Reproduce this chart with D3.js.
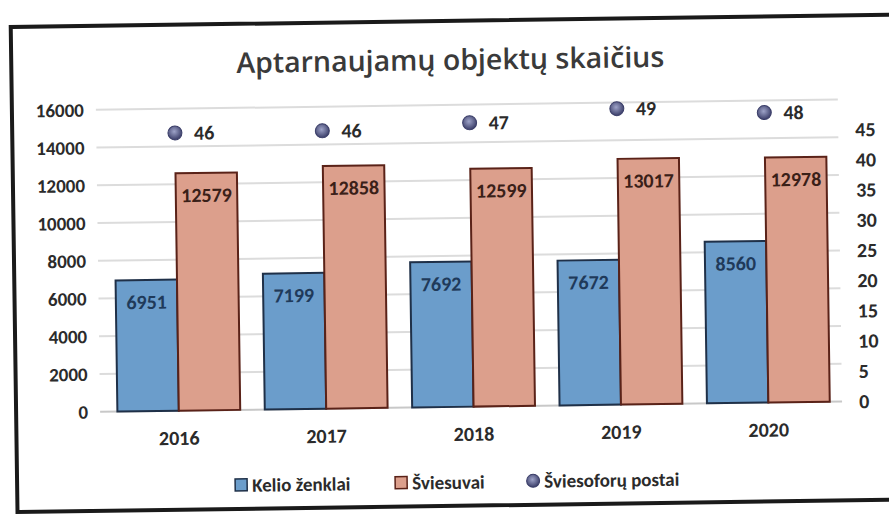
<!DOCTYPE html>
<html>
<head>
<meta charset="utf-8">
<script src="https://cdn.jsdelivr.net/npm/d3@7"></script>
<style>
  body { margin: 0; background: #fff; }
  svg { display: block; }
</style>
</head>
<body>
<div id="chart"></div>
<script>
// data
const years = ["2016", "2017", "2018", "2019", "2020"];
const keliozenklai = [6951, 7199, 7692, 7672, 8560];
const sviesuvai = [12579, 12858, 12599, 13017, 12978];
const postai = [46, 46, 47, 49, 48];
const leftTicks = [0, 2000, 4000, 6000, 8000, 10000, 12000, 14000, 16000];
const rightTicks = [0, 5, 10, 15, 20, 25, 30, 35, 40, 45];
const seriesNames = ["Kelio ženklai", "Šviesuvai", "Šviesoforų postai"];

const width = 889, height = 516;
const font = "Carlito, Lato, 'Open Sans', sans-serif";

const svg = d3.select("#chart").append("svg")
    .attr("width", width)
    .attr("height", height)
    .attr("font-family", font);

// the scan is a little tilted, so everything sits in one rotated group
const root = svg.append("g")
    .attr("transform", "rotate(-0.8,445,258)");

// the outer frame (cut by the page on the right)
root.append("rect")
    .attr("x", 14).attr("y", 21)
    .attr("width", 900).attr("height", 485)
    .attr("fill", "none")
    .attr("stroke", "#1a1a1a")
    .attr("stroke-width", 4);

root.append("text")
    .attr("x", 453).attr("y", 70)
    .attr("text-anchor", "middle")
    .attr("font-family", "'Open Sans', sans-serif")
    .attr("font-size", 28.5)
    .attr("font-weight", 600)
    .attr("fill", "#3a3a3a")
    .text("Aptarnaujamų objektų skaičius");

const x = d3.scaleBand().domain(years).range([103, 840]);
const x1 = d3.scaleBand().domain([0, 1]).range([0, x.bandwidth()]).paddingOuter(0.2);
const y = d3.scaleLinear().domain([0, 16000]).range([407, 105]);
const y2 = d3.scaleLinear().domain([0, 50]).range([407, 105]);

// gridlines
root.append("g")
  .selectAll("line")
  .data(leftTicks)
  .join("line")
    .attr("x1", 98).attr("x2", 840)
    .attr("y1", d => y(d)).attr("y2", d => y(d))
    .attr("stroke", d => d === 0 ? "#c8c8c8" : "#dcdcdc")
    .attr("stroke-width", 2);

// left axis
const yAxis = root.append("g")
    .attr("transform", "translate(86,0)")
    .call(d3.axisLeft(y).tickValues(leftTicks).tickFormat(d3.format("d")).tickSize(0).tickPadding(0));
yAxis.select(".domain").remove();
yAxis.selectAll("text")
    .attr("font-family", font)
    .attr("font-size", 19)
    .attr("font-weight", "bold")
    .attr("fill", "#2b2b2b");

// right axis
const y2Axis = root.append("g")
    .attr("transform", "translate(852,0)")
    .call(d3.axisRight(y2).tickValues(rightTicks).tickSize(0).tickPadding(5));
y2Axis.select(".domain").remove();
y2Axis.selectAll("text")
    .attr("font-family", font)
    .attr("font-size", 20)
    .attr("font-weight", "bold")
    .attr("fill", "#2b2b2b");

// x axis
const xAxis = root.append("g")
    .attr("transform", `translate(0,${y(0)})`)
    .call(d3.axisBottom(x).tickSize(0).tickPadding(20));
xAxis.select(".domain").remove();
xAxis.selectAll("text")
    .attr("font-family", font)
    .attr("font-size", 20)
    .attr("font-weight", "bold")
    .attr("fill", "#2b2b2b");

const fills = ["#6b9dcb", "#dc9f8c"];
const strokes = ["#1f3048", "#5a2218"];
const labelCol = ["#1f3a5a", "#3a2018"];
const bars = [keliozenklai, sviesuvai];

const groups = root.append("g")
  .selectAll("g")
  .data(years)
  .join("g")
    .attr("transform", d => `translate(${x(d)},0)`);

bars.forEach((vals, s) => {
  groups.append("rect")
      .attr("x", x1(s))
      .attr("y", (d, i) => y(vals[i]))
      .attr("width", x1.bandwidth())
      .attr("height", (d, i) => y(0) - y(vals[i]))
      .attr("fill", fills[s])
      .attr("stroke", strokes[s])
      .attr("stroke-width", 2);
  groups.append("text")
      .attr("x", x1(s) + x1.bandwidth() / 2)
      .attr("y", (d, i) => y(vals[i]) + 29)
      .attr("text-anchor", "middle")
      .attr("font-size", 20)
      .attr("font-weight", "bold")
      .attr("fill", labelCol[s])
      .text((d, i) => vals[i]);
});

// dots for the secondary series
const grad = svg.append("defs").append("radialGradient")
    .attr("id", "dot").attr("cx", "45%").attr("cy", "40%").attr("r", "60%");
grad.append("stop").attr("offset", "0%").attr("stop-color", "#9ea3c8");
grad.append("stop").attr("offset", "100%").attr("stop-color", "#3a3d68");

const dots = root.append("g")
  .selectAll("g")
  .data(years)
  .join("g");
dots.append("circle")
    .attr("cx", d => x(d) + x.bandwidth() / 2)
    .attr("cy", (d, i) => y2(postai[i]))
    .attr("r", 7)
    .attr("fill", "url(#dot)")
    .attr("stroke", "#3a3d68")
    .attr("stroke-width", 1);
dots.append("text")
    .attr("x", d => x(d) + x.bandwidth() / 2 + 19)
    .attr("y", (d, i) => y2(postai[i]) + 7)
    .attr("font-size", 20)
    .attr("font-weight", "bold")
    .attr("fill", "#2b2b2b")
    .text((d, i) => postai[i]);

// legend
const legend = root.append("g").attr("transform", "translate(0,482)");
const legendX = [232, 392, 524];
seriesNames.forEach((name, i) => {
  if (i < 2) {
    legend.append("rect")
        .attr("x", legendX[i]).attr("y", -6)
        .attr("width", 12).attr("height", 12)
        .attr("fill", fills[i])
        .attr("stroke", strokes[i])
        .attr("stroke-width", 1.5);
  } else {
    legend.append("circle")
        .attr("cx", legendX[i] + 6).attr("cy", 0)
        .attr("r", 6.5)
        .attr("fill", "url(#dot)")
        .attr("stroke", "#3a3d68");
  }
  legend.append("text")
      .attr("x", legendX[i] + 17)
      .attr("y", 7)
      .attr("font-size", 19)
      .attr("font-weight", "bold")
      .attr("fill", "#2b2b2b")
      .text(name);
});
</script>
</body>
</html>
